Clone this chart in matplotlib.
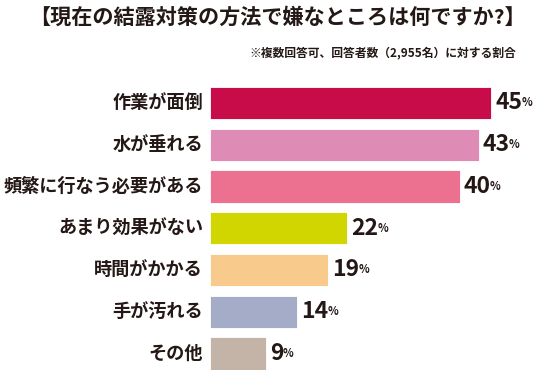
import matplotlib
matplotlib.use("Agg")
import matplotlib.pyplot as plt
from matplotlib.transforms import offset_copy

plt.rcParams['font.family'] = ['Noto Sans CJK JP', 'DejaVu Sans']

title = "【現在の結露対策の方法で嫌なところは何ですか?】"
note = "※複数回答可、回答者数（2,955名）に対する割合"
categories = ["作業が面倒", "水が垂れる", "頻繁に行なう必要がある", "あまり効果がない",
              "時間がかかる", "手が汚れる", "その他"]
values = [45, 43, 40, 22, 19, 14, 9]
colors = ["#C80C4A", "#DE8BB6", "#EC7090", "#D2D600", "#F8CA8C", "#A4ACC8", "#C4B4A8"]
ink = "#231815"

W, H = 554, 370
fig = plt.figure(figsize=(W / 100, H / 100), dpi=100)
ax = fig.add_axes([209.5 / W, 0, 338 / W, 288 / H])

ys = range(len(values))
ax.barh(ys, values, height=0.77, color=colors, edgecolor="white", linewidth=0.6)
ax.set_xlim(0, 54)
ax.set_ylim(6.395, -0.5)
ax.axis("off")

fig.canvas.draw()
r = fig.canvas.get_renderer()
for y, v, c in zip(ys, values, categories):
    ax.text(0, y, c, transform=offset_copy(ax.transData, fig, x=-6.5, y=0, units="dots"),
            ha="right", va="center", fontsize=13.1, fontweight="bold", color=ink)
    t = ax.text(v, y, str(v), transform=offset_copy(ax.transData, fig, x=4, y=0, units="dots"),
                ha="left", va="center", fontsize=16.5, fontweight="bold", color=ink)
    bb = t.get_window_extent(r)
    fig.text((bb.x1 - 1) / W, (bb.y0 + 5) / H, "%", ha="left", va="bottom",
             fontsize=8, fontweight="bold", color=ink)

fig.text(0.5, 1 - 17 / H, title, ha="center", va="center", fontsize=15.2,
         fontweight="bold", color=ink)
fig.text(516 / W, 1 - 53 / H, note, ha="right", va="center", fontsize=8.5,
         fontweight="bold", color=ink)

fig.savefig("out.png", dpi=100)
